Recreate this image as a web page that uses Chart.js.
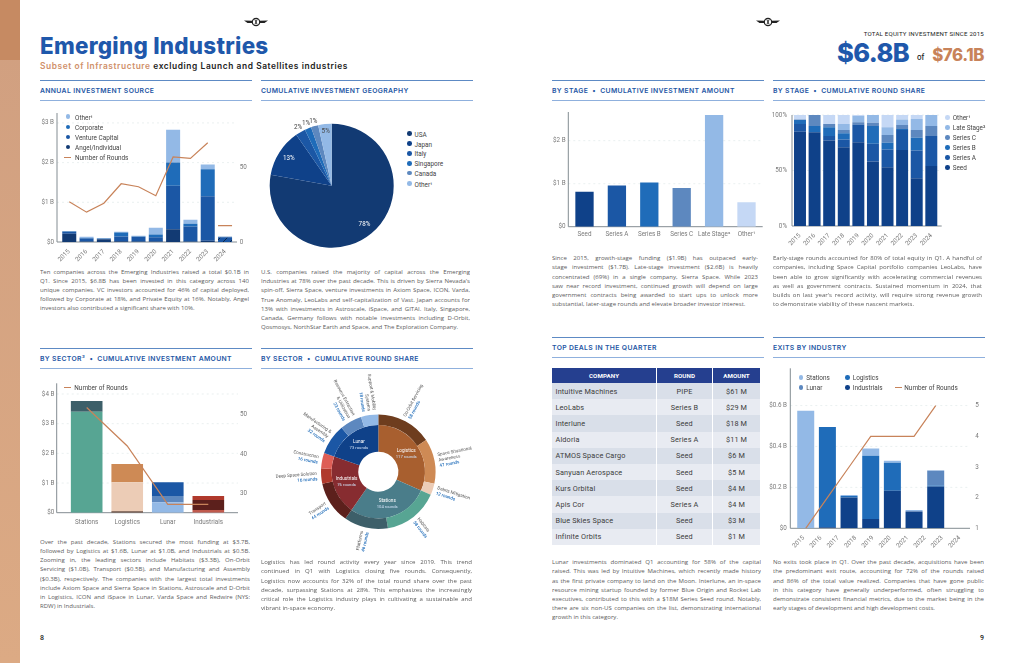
<!DOCTYPE html>
<html>
<head>
<meta charset="utf-8">
<title>Emerging Industries</title>
<script src="https://cdn.jsdelivr.net/npm/chart.js@4"></script>
<style>
html, body { margin: 0; padding: 0; background: #fff; }
#page { position: relative; width: 1024px; height: 663px; overflow: hidden; font-family: 'Open Sans', sans-serif; }
#page canvas { position: absolute; }
.t { position: absolute; white-space: pre; line-height: 1; }
.rule { position: absolute; height: 1px; }
.line { position: absolute; height: 9px; line-height: 9px; overflow: hidden; font-size: 6.05px; color: #5c5c5c; text-align: justify; text-align-last: justify; }
.line.last { text-align-last: left; }
.sec { font: 600 6.8px Inter, sans-serif; color: #2456a4; letter-spacing: .36px; }
.leg { font: 400 6.4px Roboto, sans-serif; color: #444; }
.dot { position: absolute; width: 4.6px; height: 4.6px; border-radius: 50%; }
table { position: absolute; left: 552px; top: 368px; width: 209px; border-collapse: separate; border-spacing: 0; table-layout: fixed; font: 400 7.3px Roboto, sans-serif; color: #3c3c3c; letter-spacing: .15px; }
th { background: #253f8f; color: #fff; font-weight: 700; font-size: 6.2px; height: 15px; padding: 0; border-right: 1px solid #fff; letter-spacing: .1px; }
td { height: 16.2px; padding: 0; text-align: center; border-right: 1px solid #fff; }
td:first-child { text-align: left; padding-left: 3.5px; }
tr:nth-child(odd) td { background: #d9dfe9; }
tr:nth-child(even) td { background: #e8ebf2; }
</style>
</head>
<body>
<div id="page"></div>
<script>
// Annual investment source
const years = ['2015', '2016', '2017', '2018', '2019', '2020', '2021', '2022', '2023', '2024'];
const angelValues = [0.21, 0.01, 0.07, 0.02, 0.01, 0.01, 0.32, 0.01, 0.03, 0.11];
const ventureValues = [0.05, 0.08, 0.01, 0.12, 0.12, 0.11, 1.10, 0.38, 1.12, 0.02];
const corporateValues = [0.01, 0.01, 0.01, 0.10, 0.01, 0.07, 0.58, 0.07, 0.68, 0];
const otherValues = [0, 0.03, 0.01, 0.02, 0.02, 0.17, 0.83, 0.10, 0.12, 0];
const annualRounds = [27, 20, 26, 39, 37, 31, 57, 56, 66.5, null];
const annualRoundsPartial = [null, null, null, null, null, null, null, null, null, 11];

// Geography pie
const countries = ['USA', 'Japan', 'Italy', 'Singapore', 'Canada', 'Other¹'];
const countryShare = [77.8, 12.5, 2.6, 1.7, 1.9, 3.5];
const countryLabels = ['78%', '13%', '2%', '1%', '1%', '5%'];

// By stage
const stages = ['Seed', 'Series A', 'Series B', 'Series C', 'Late Stage²', 'Other¹'];
const stageAmount = [0.81, 0.96, 1.03, 0.90, 2.60, 0.57];
const seedShare = [85, 84.5, 77, 71, 75.5, 58, 53, 68.5, 43, 54];
const seriesAShare = [7, 0, 4, 7, 16, 16, 16, 18, 25, 27];
const seriesBShare = [3.5, 5.5, 8, 5.5, 0, 16, 6, 1, 11.5, 0];
const seriesCShare = [0.5, 10, 3, 3, 2, 3, 7, 3.5, 7, 9];
const lateShare = [0, 0, 0, 5.5, 5.5, 7, 7, 5, 10, 10];
const otherShare = [4, 0, 8, 8, 1, 0, 11, 4, 3.5, 0];

// By sector amount
const sectors = ['Stations', 'Logistics', 'Lunar', 'Industrials'];
const sectorLayer1 = [3.40, 0.05, 0.35, 0.09];
const sectorLayer2 = [0.36, 0.98, 0.21, 0.34];
const sectorLayer3 = [0, 0.61, 0.47, 0.13];
const sectorRoundsLine = [51.7, 42, 27.3, 27.3];

// By sector round share
const sectorNames = ['Logistics', 'Stations', 'Industrials', 'Lunar'];
const sectorRounds = [117, 104, 76, 73];
const subNames = [['On-Orbit Servicing'], ['Space Situational', 'Awareness'], ['Debris Mitigation'], ['Habitats'], ['Platforms'], ['Transport'], ['Deep Space Solution'], ['Construction'], ['Manufacturing &', 'Assembly'], ['Resource Extraction', '& Utilization'], ['Support & Mobility', 'Systems']];
const subRounds = [58, 47, 12, 58, 46, 44, 16, 16, 32, 23, 18];

// Top deals
const dealCompanies = ['Intuitive Machines', 'LeoLabs', 'Interlune', 'Aldoria', 'ATMOS Space Cargo', 'Sanyuan Aerospace', 'Kurs Orbital', 'Apis Cor', 'Blue Skies Space', 'Infinite Orbits'];
const dealRounds = ['PIPE', 'Series B', 'Seed', 'Series A', 'Seed', 'Seed', 'Seed', 'Series A', 'Seed', 'Seed'];
const dealAmounts = ['$61 M', '$29 M', '$18 M', '$11 M', '$6 M', '$5 M', '$4 M', '$4 M', '$3 M', '$1 M'];

// Exits: eight bar slots under ten printed year labels
const exitSlots = ['a', 'b', 'c', 'd', 'e', 'f', 'g', 'h'];
const exitIndustrials = [0, 0.005, 0.15, 0.046, 0.183, 0.082, 0.204, 0];
const exitLogistics = [0, 0.49, 0.008, 0.308, 0.137, 0, 0.005, 0];
const exitLunar = [0, 0, 0, 0, 0, 0, 0.072, 0];
const exitStations = [0.574, 0, 0.005, 0.036, 0.01, 0.008, 0.003, 0];
const exitRounds = [1, 2, 3, 4, 4, 4, 5, null];

const navy = '#123a73', deep = '#0f4189', blue = '#1b57a5', mid = '#1f6cb9', steel = '#5d88bf', sky = '#93b9e6', pale = '#c5d8f5';
const copper = '#c8835a';
const page = document.getElementById('page');

Chart.defaults.font.family = 'Roboto, sans-serif';
Chart.defaults.font.size = 6.3;
Chart.defaults.color = '#7a7a7a';

// Draws the axis lines and dashed grid, which run wider than the bar slots in this layout
const framePlugin = {
    id: 'frame',
    beforeDatasetsDraw(chart, args, opts) {
        if (opts.left === undefined) return;
        const ctx = chart.ctx, y = chart.scales.y, area = chart.chartArea;
        ctx.save();
        ctx.strokeStyle = '#e4ecec';
        ctx.setLineDash([2, 3]);
        ctx.lineWidth = 0.8;
        y.ticks.forEach(t => {
            if (t.value === 0) return;
            const py = y.getPixelForValue(t.value);
            ctx.beginPath();
            ctx.moveTo(opts.left, py);
            ctx.lineTo(opts.right, py);
            ctx.stroke();
        });
        ctx.setLineDash([]);
        ctx.strokeStyle = '#838c92';
        ctx.lineWidth = 1;
        ctx.beginPath();
        ctx.moveTo(opts.left, area.top);
        ctx.lineTo(opts.left, area.bottom);
        ctx.lineTo(opts.right, area.bottom);
        ctx.stroke();
        ctx.restore();
    }
};

const pieLabelPlugin = {
    id: 'pieLabels',
    afterDatasetsDraw(chart, args, opts) {
        if (!opts.on) return;
        const ctx = chart.ctx, meta = chart.getDatasetMeta(0);
        ctx.save();
        ctx.font = '6.3px Roboto, sans-serif';
        ctx.textAlign = 'center';
        ctx.textBaseline = 'middle';
        meta.data.forEach((arc, i) => {
            const v = countryShare[i];
            const a = (arc.startAngle + arc.endAngle) / 2;
            const r = v < 3 ? 67 : (v < 5 ? 55 : 51);
            ctx.fillStyle = v > 5 ? '#fff' : '#444';
            ctx.fillText(countryLabels[i], arc.x + Math.cos(a) * r, arc.y + Math.sin(a) * r);
        });
        ctx.restore();
    }
};

const sunburstLabelPlugin = {
    id: 'sunLabels',
    afterDatasetsDraw(chart, args, opts) {
        if (!opts.on) return;
        const ctx = chart.ctx;
        ctx.save();
        ctx.textBaseline = 'middle';
        chart.getDatasetMeta(0).data.forEach((arc, i) => {
            const a = (arc.startAngle + arc.endAngle) / 2;
            const right = Math.cos(a) >= 0;
            const lines = subNames[i].concat(subRounds[i] + ' rounds');
            ctx.save();
            ctx.translate(arc.x, arc.y);
            ctx.rotate(right ? a : a + Math.PI);
            ctx.textAlign = right ? 'left' : 'right';
            lines.forEach((s, k) => {
                const last = k === lines.length - 1;
                ctx.font = (last ? '500 ' : '') + '4.5px Roboto, sans-serif';
                ctx.fillStyle = last ? mid : '#555';
                ctx.fillText(s, (right ? 1 : -1) * (arc.outerRadius + 4), (k - (lines.length - 1) / 2) * 5.6);
            });
            ctx.restore();
        });
        ctx.textAlign = 'center';
        chart.getDatasetMeta(1).data.forEach((arc, i) => {
            const a = (arc.startAngle + arc.endAngle) / 2;
            const r = (arc.innerRadius + arc.outerRadius) / 2;
            const px = arc.x + Math.cos(a) * r, py = arc.y + Math.sin(a) * r;
            ctx.font = '4.7px Roboto, sans-serif';
            ctx.fillStyle = '#fff';
            ctx.fillText(sectorNames[i], px, py - 3);
            ctx.font = '4.2px Roboto, sans-serif';
            ctx.fillStyle = '#cfe0f5';
            ctx.fillText(sectorRounds[i] + ' rounds', px, py + 3);
        });
        ctx.restore();
    }
};

Chart.register(framePlugin, pieLabelPlugin, sunburstLabelPlugin);

function addText(x, y, text, className, css) {
    const el = document.createElement('div');
    el.className = 't ' + (className || '');
    el.textContent = text;
    el.style.cssText = `left:${x}px;top:${y}px;` + (css || '');
    page.appendChild(el);
    return el;
}

function addRule(x, y, w, color) {
    const el = document.createElement('div');
    el.className = 'rule';
    el.style.cssText = `left:${x}px;top:${y}px;width:${w}px;background:${color};`;
    page.appendChild(el);
}

function sectionHead(x, topRule, title) {
    addRule(x, topRule, 211.5, '#5d8ac4');
    addRule(x, topRule + 20, 211.5, '#8fb0dd');
    addText(x, topRule + 6.4, title, 'sec');
}

function paragraph(x, y, w, lines) {
    lines.forEach((text, i) => {
        const el = document.createElement('div');
        el.className = 'line' + (i === lines.length - 1 ? ' last' : '');
        el.textContent = text;
        el.style.cssText = `left:${x}px;top:${y - 4.5 + i * 9.2}px;width:${w}px;`;
        page.appendChild(el);
    });
}

function legendDot(x, y, textX, label, color) {
    const d = document.createElement('div');
    d.className = 'dot';
    d.style.cssText = `left:${x - 2.3}px;top:${y - 2.3}px;background:${color};`;
    page.appendChild(d);
    addText(textX, y - 3.2, label, 'leg');
}

function legendLine(x0, x1, y, textX, label) {
    addRule(x0, y - 0.5, x1 - x0, copper);
    addText(textX, y - 3.2, label, 'leg');
}

function fixHeight(h) {
    return s => { s.height = h; s.paddingLeft = 0; s.paddingRight = 0; };
}

function fixWidth(w) {
    return s => { s.width = w; s.paddingTop = 0; s.paddingBottom = 0; };
}

function categoryAxis(labels, bottom, padding, rotated, stacked, display) {
    return {
        type: 'category', labels, stacked, offset: true, display: display !== false,
        grid: { display: false, drawTicks: false }, border: { display: false },
        ticks: { padding, autoSkip: false, maxRotation: rotated ? 45 : 0, minRotation: rotated ? 45 : 0 },
        afterFit: fixHeight(bottom)
    };
}

function valueAxis(position, min, max, values, format, padding, width, stacked) {
    return {
        type: 'linear', position, min, max, stacked,
        grid: { display: false, drawTicks: false }, border: { display: false },
        ticks: { padding, callback: format },
        afterBuildTicks: s => { s.ticks = values.map(value => ({ value })); },
        afterFit: fixWidth(width)
    };
}

// Places a canvas so its plot area lands on the given page rectangle
function addChart(area, pad, frame, config, build) {
    const cx = Math.floor(area.x - pad.l), cy = Math.floor(area.y - pad.t);
    const left = area.x - cx, top = area.y - cy;
    const W = Math.ceil(left + area.w + pad.r), H = Math.ceil(top + area.h + pad.b);
    const right = W - left - area.w, bottom = H - top - area.h;
    const canvas = document.createElement('canvas');
    canvas.width = W;
    canvas.height = H;
    canvas.style.left = cx + 'px';
    canvas.style.top = cy + 'px';
    canvas.style.width = W + 'px';
    canvas.style.height = H + 'px';
    page.appendChild(canvas);
    const parts = build({ left, right, bottom });
    const hasRight = parts.scales && parts.scales.y2;
    new Chart(canvas, {
        type: config.type,
        data: { labels: config.labels, datasets: parts.datasets },
        options: {
            responsive: false, animation: false,
            layout: { autoPadding: false, padding: { top, left: parts.scales ? 0 : left, bottom: parts.scales ? 0 : bottom, right: hasRight ? 0 : right } },
            plugins: Object.assign({
                legend: { display: false }, tooltip: { enabled: false },
                frame: frame ? { left: frame.l - cx, right: frame.r - cx } : {}
            }, parts.plugins || {}),
            scales: parts.scales || {},
            ...(parts.options || {})
        }
    });
}

function hatch(base) {
    const c = document.createElement('canvas');
    c.width = c.height = 7;
    const g = c.getContext('2d');
    g.fillStyle = base;
    g.fillRect(0, 0, 7, 7);
    g.strokeStyle = '#0b1f40';
    g.lineWidth = 0.9;
    g.beginPath();
    g.moveTo(0, 7); g.lineTo(7, 0);
    g.stroke();
    return g.createPattern(c, 'repeat');
}

function barSet(data, color, barPercentage) {
    return { type: 'bar', data, backgroundColor: color, barPercentage, categoryPercentage: 1, stack: 's', order: 2, borderWidth: 0 };
}

function roundsLine(data, xAxisID) {
    return { type: 'line', data, yAxisID: 'y2', xAxisID: xAxisID || 'x', borderColor: copper, borderWidth: 1.2, pointRadius: 0, tension: 0, order: 1, fill: false };
}

const money = v => v === 0 ? '$0' : '$' + v + ' B';

function drawPageChrome() {
    const strip = document.createElement('div');
    strip.style.cssText = 'position:absolute;left:0;top:0;width:20px;height:663px;background:linear-gradient(#d09f80,#dcaa84);';
    page.appendChild(strip);
    const cap = document.createElement('div');
    cap.style.cssText = 'position:absolute;left:0;top:0;width:20px;height:60px;background:#c68a62;';
    page.appendChild(cap);

    [256, 768].forEach(cx => {
        const holder = document.createElement('div');
        holder.style.cssText = `position:absolute;left:${cx - 13}px;top:10.5px;width:26px;height:12px;`;
        holder.innerHTML = '<svg width="26" height="12" viewBox="0 0 26 12"><path d="M1 4.6 L9.5 4.8 L9.5 7 L4.5 7 Z M25 4.6 L16.5 4.8 L16.5 7 L21.5 7 Z" fill="#222"/><circle cx="13" cy="6" r="3.7" fill="#fff" stroke="#222" stroke-width="1.2"/><path d="M11.8 3.4 L14.2 8.6 M14.2 3.4 L11.8 8.6" stroke="#222" stroke-width=".9"/></svg>';
        page.appendChild(holder);
    });

    addText(40, 32, 'Emerging Industries', '', "font:800 22.4px Inter,sans-serif;color:#1f58ab;letter-spacing:.27px;");
    const sub = addText(40, 61, '', '', "font:600 8.4px Inter,sans-serif;color:#222;letter-spacing:.58px;");
    sub.innerHTML = '<span style="color:#d0906a">Subset of Infrastructure</span> excluding Launch and Satellites industries';

    addText(0, 30.2, 'TOTAL EQUITY INVESTMENT SINCE 2015', '', "left:auto;right:40px;font:400 6.1px Roboto,sans-serif;color:#222;letter-spacing:.22px;");
    addText(837, 36.5, '$6.8B', '', "font:800 25.5px Inter,sans-serif;color:#1f58ab;letter-spacing:-.6px;");
    addText(917, 53, 'of', '', "font:500 7.6px Inter,sans-serif;color:#222;");
    addText(0, 45, '$76.1B', '', "left:auto;right:40px;font:800 16.8px Inter,sans-serif;color:#c8835a;letter-spacing:-.4px;");

    sectionHead(40, 80, 'ANNUAL INVESTMENT SOURCE');
    sectionHead(261, 80, 'CUMULATIVE INVESTMENT GEOGRAPHY');
    sectionHead(552, 80, 'BY STAGE  •  CUMULATIVE INVESTMENT AMOUNT');
    sectionHead(773, 80, 'BY STAGE  •  CUMULATIVE ROUND SHARE');
    sectionHead(40, 348, 'BY SECTOR³  •  CUMULATIVE INVESTMENT AMOUNT');
    sectionHead(261, 348, 'BY SECTOR  •  CUMULATIVE ROUND SHARE');
    sectionHead(552, 336.5, 'TOP DEALS IN THE QUARTER');
    sectionHead(773, 336.5, 'EXITS BY INDUSTRY');

    addText(40, 634, '8', '', "font:500 7px Roboto,sans-serif;color:#222;");
    addText(980, 634, '9', '', "font:500 7px Roboto,sans-serif;color:#222;");
}

function drawParagraphs() {
    paragraph(40, 272, 209, [
        'Ten companies across the Emerging Industries raised a total $0.1B in',
        'Q1. Since 2015, $6.8B has been invested in this category across 140',
        'unique companies. VC investors accounted for 46% of capital deployed,',
        'followed by Corporate at 18%, and Private Equity at 16%. Notably, Angel',
        'investors also contributed a significant share with 10%.']);
    paragraph(261, 272.5, 209, [
        'U.S. companies raised the majority of capital across the Emerging',
        "Industries at 78% over the past decade. This is driven by Sierra Nevada's",
        'spin-off, Sierra Space, venture investments in Axiom Space, ICON, Varda,',
        'True Anomaly, LeoLabs and self-capitalization of Vast. Japan accounts for',
        '13% with investments in Astroscale, iSpace, and GITAI. Italy, Singapore,',
        'Canada, Germany follows with notable investments including D-Orbit,',
        'Qosmosys, NorthStar Earth and Space, and The Exploration Company.']);
    paragraph(552, 258.7, 206, [
        'Since 2015, growth-stage funding ($1.9B) has outpaced early-',
        'stage investment ($1.7B). Late-stage investment ($2.6B) is heavily',
        'concentrated (69%) in a single company, Sierra Space. While 2023',
        'saw near record investment, continued growth will depend on large',
        'government contracts being awarded to start ups to unlock more',
        'substantial, later-stage rounds and elevate broader investor interest.']);
    paragraph(773, 258.7, 209, [
        'Early-stage rounds accounted for 80% of total equity in Q1. A handful of',
        'companies, including Space Capital portfolio companies LeoLabs, have',
        'been able to grow significantly with accelerating commercial revenues',
        'as well as government contracts. Sustained momentum in 2024, that',
        "builds on last year's record activity, will require strong revenue growth",
        'to demonstrate viability of these nascent markets.']);
    paragraph(40, 542.3, 210, [
        'Over the past decade, Stations secured the most funding at $3.7B,',
        'followed by Logistics at $1.6B, Lunar at $1.0B, and Industrials at $0.5B.',
        'Zooming in, the leading sectors include Habitats ($3.3B), On-Orbit',
        'Servicing ($1.0B), Transport ($0.5B), and Manufacturing and Assembly',
        '($0.3B), respectively. The companies with the largest total investments',
        'include Axiom Space and Sierra Space in Stations, Astroscale and D-Orbit',
        'in Logistics, ICON and iSpace in Lunar, Varda Space and Redwire (NYS:',
        'RDW) in Industrials.']);
    paragraph(261, 562.7, 211, [
        'Logistics has led round activity every year since 2019. This trend',
        'continued in Q1 with Logistics closing five rounds. Consequently,',
        'Logistics now accounts for 32% of the total round share over the past',
        'decade, surpassing Stations at 28%. This emphasizes the increasingly',
        'critical role the Logistics industry plays in cultivating a sustainable and',
        'vibrant in-space economy.']);
    paragraph(552, 562.7, 209, [
        'Lunar investments dominated Q1 accounting for 58% of the capital',
        'raised. This was led by Intuitive Machines, which recently made history',
        'as the first private company to land on the Moon. Interlune, an in-space',
        'resource mining startup founded by former Blue Origin and Rocket Lab',
        'executives, contributed to this with a $18M Series Seed round. Notably,',
        'there are six non-US companies on the list, demonstrating international',
        'growth in this category.']);
    paragraph(773, 562.7, 211, [
        'No exits took place in Q1. Over the past decade, acquisitions have been',
        'the predominant exit route, accounting for 72% of the rounds raised',
        'and 86% of the total value realized. Companies that have gone public',
        'in this category have generally underperformed, often struggling to',
        'demonstrate consistent financial metrics, due to the market being in the',
        'early stages of development and high development costs.']);
}

function drawDealsTable() {
    const rows = dealCompanies.map((c, i) => `<tr><td>${c}</td><td>${dealRounds[i]}</td><td>${dealAmounts[i]}</td></tr>`).join('');
    const holder = document.createElement('div');
    holder.innerHTML = `<table><colgroup><col style="width:105px"><col style="width:56px"><col style="width:48px"></colgroup><thead><tr><th>COMPANY</th><th>ROUND</th><th>AMOUNT</th></tr></thead><tbody>${rows}</tbody></table>`;
    page.appendChild(holder);
}

function drawAnnualSource() {
    const shade = hatch(blue);
    addChart({ x: 60.6, y: 113, w: 173.1, h: 129 }, { l: 40, t: 4, r: 24, b: 24 }, { l: 57, r: 237 }, { type: 'bar', labels: years }, f => ({
        datasets: [
            barSet(angelValues, angelValues.map((v, i) => i === 9 ? shade : navy), 0.81),
            barSet(ventureValues, blue, 0.81),
            barSet(corporateValues, mid, 0.81),
            barSet(otherValues, sky, 0.81),
            roundsLine(annualRounds),
            { type: 'line', data: annualRoundsPartial, yAxisID: 'y2', borderColor: copper, pointStyle: 'line', pointRadius: 7, pointBorderColor: copper, pointBorderWidth: 1.2, showLine: false, order: 1 }
        ],
        scales: {
            x: categoryAxis(years, f.bottom, 6, true, true),
            y: valueAxis('left', 0, 3.25, [0, 1, 2, 3], money, 6.6, f.left, true),
            y2: valueAxis('right', 0, 86.4, [0, 50], v => v, 6, f.right, false)
        }
    }));
    legendDot(68, 116.7, 75, 'Other¹', sky);
    legendDot(68, 127, 75, 'Corporate', mid);
    legendDot(68, 137, 75, 'Venture Capital', blue);
    legendDot(68, 147, 75, 'Angel/Individual', navy);
    legendLine(64.3, 71, 157.3, 75, 'Number of Rounds');
}

function drawGeography() {
    addChart({ x: 261.7, y: 115.7, w: 140, h: 140 }, { l: 0, t: 0, r: 0, b: 0 }, null, { type: 'pie', labels: countries }, () => ({
        datasets: [{ data: countryShare, backgroundColor: [navy, deep, blue, mid, steel, sky], borderWidth: 0 }],
        options: { radius: 62 },
        plugins: { pieLabels: { on: true } }
    }));
    [navy, deep, blue, mid, steel, sky].forEach((c, i) => {
        legendDot(409.3, [133.7, 143.7, 153.5, 163.5, 173, 183.7][i], 414.5, countries[i], c);
    });
}

function drawStageAmount() {
    addChart({ x: 568.3, y: 112, w: 194.4, h: 114.7 }, { l: 26, t: 3, r: 2, b: 16 }, { l: 568.3, r: 762.7 }, { type: 'bar', labels: stages }, f => ({
        datasets: [{ data: stageAmount, backgroundColor: [deep, blue, mid, steel, sky, pale], barPercentage: 0.565, categoryPercentage: 1, borderWidth: 0 }],
        scales: {
            x: categoryAxis(stages, f.bottom, 4, false, false),
            y: valueAxis('left', 0, 2.667, [0, 1, 2], money, 2.7, f.left, false)
        }
    }));
}

function drawStageShare() {
    addChart({ x: 792.7, y: 115, w: 145.9, h: 111 }, { l: 30, t: 4, r: 4, b: 24 }, { l: 792, r: 941.7 }, { type: 'bar', labels: years }, f => ({
        datasets: [
            barSet(seedShare, deep, 0.82),
            barSet(seriesAShare, blue, 0.82),
            barSet(seriesBShare, mid, 0.82),
            barSet(seriesCShare, steel, 0.82),
            barSet(lateShare, sky, 0.82),
            barSet(otherShare, pale, 0.82)
        ],
        scales: {
            x: categoryAxis(years, f.bottom, 6, true, true),
            y: valueAxis('left', 0, 100, [0, 50, 100], v => v + '%', 5.7, f.left, true)
        }
    }));
    const names = ['Other¹', 'Late Stage²', 'Series C', 'Series B', 'Series A', 'Seed'];
    [pale, sky, steel, mid, blue, deep].forEach((c, i) => legendDot(947.7, 117.3 + i * 10, 952.7, names[i], c));
}

function drawSectorAmount() {
    addChart({ x: 66.4, y: 383.3, w: 162.2, h: 129.4 }, { l: 40, t: 4, r: 24, b: 16 }, { l: 56.7, r: 238 }, { type: 'bar', labels: sectors }, f => ({
        datasets: [
            barSet(sectorLayer1, ['#57a593', '#6a4a3a', sky, '#c05a4d'], 0.78),
            barSet(sectorLayer2, ['#3d5f69', '#ecccb6', steel, '#5c201c'], 0.78),
            barSet(sectorLayer3, ['#3d5f69', '#ce8a55', blue, '#b0392c'], 0.78),
            roundsLine(sectorRoundsLine)
        ],
        scales: {
            x: categoryAxis(sectors, f.bottom, 6, false, true),
            y: valueAxis('left', 0, 4.36, [0, 1, 2, 3, 4], money, 12, f.left, true),
            y2: valueAxis('right', 25.2, 57.8, [30, 40, 50], v => v, 11.4, f.right, false)
        }
    }));
    legendLine(64.3, 70.7, 387, 74.3, 'Number of Rounds');
}

function drawSectorShare() {
    addChart({ x: 268.3, y: 361.7, w: 220, h: 220 }, { l: 0, t: 0, r: 0, b: 0 }, null, { type: 'doughnut', labels: subRounds.map(String) }, () => ({
        datasets: [
            { data: subRounds, backgroundColor: ['#6e3d1e', '#ce8a55', '#ecccb6', '#57a593', '#3d5f69', '#5c201c', '#b0392c', '#de5e56', blue, steel, sky], borderWidth: 0, weight: 10.6 },
            { data: sectorRounds, backgroundColor: ['#a85f2f', '#4a7d8a', '#872c30', deep], borderWidth: 0, weight: 26.7 }
        ],
        options: { radius: 57.3, cutout: '34.9%' },
        plugins: { sunLabels: { on: true } }
    }));
}

function drawExits() {
    addChart({ x: 794.9, y: 368.3, w: 173.3, h: 160 }, { l: 40, t: 4, r: 20, b: 24 }, { l: 790.3, r: 970 }, { type: 'bar', labels: exitSlots }, f => ({
        datasets: [
            barSet(exitIndustrials, deep, 0.785),
            barSet(exitLogistics, mid, 0.785),
            barSet(exitLunar, steel, 0.785),
            barSet(exitStations, sky, 0.785),
            roundsLine(exitRounds)
        ],
        scales: {
            x: categoryAxis(exitSlots, 0, 0, false, true, false),
            yearLabels: Object.assign(categoryAxis(years, f.bottom, 6, true, false), { position: 'bottom' }),
            y: valueAxis('left', 0, 0.782, [0, 0.2, 0.4, 0.6], money, 8, f.left, true),
            y2: valueAxis('right', 1, 6.22, [1, 2, 3, 4, 5], v => v, 7, f.right, false)
        }
    }));
    legendDot(801, 377.3, 806.3, 'Stations', sky);
    legendDot(847.3, 377.3, 852.7, 'Logistics', mid);
    legendDot(801, 387.3, 806.3, 'Lunar', steel);
    legendDot(847.3, 387.3, 852.7, 'Industrials', deep);
    legendLine(895, 902.3, 387.3, 904.3, 'Number of Rounds');
}

drawPageChrome();
drawAnnualSource();
drawGeography();
drawStageAmount();
drawStageShare();
drawSectorAmount();
drawSectorShare();
drawDealsTable();
drawExits();
drawParagraphs();
</script>
</body>
</html>
